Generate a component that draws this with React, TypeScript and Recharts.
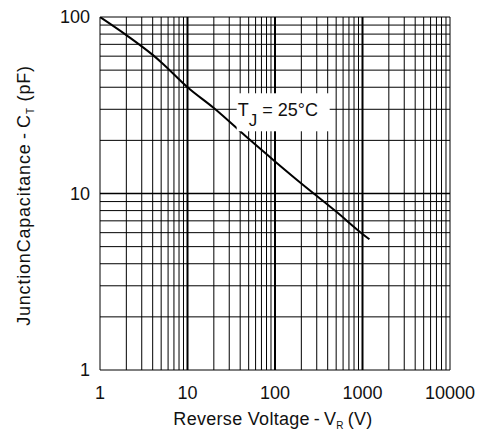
import React from "react";
import { LineChart, Line, XAxis, YAxis, ReferenceLine, ReferenceDot, Label } from "recharts";

const voltage = [1, 2, 4, 5, 10, 20, 50, 100, 200, 500, 1000, 1200];
const capacitance = [100, 79, 61, 55.5, 40, 30.5, 20.4, 15.2, 11.4, 7.9, 5.9, 5.5];

const xTicks = [1, 10, 100, 1000, 10000];
const yTicks = [1, 10, 100];

const xGrid = [
  1, 2, 3, 4, 5, 6, 7, 8, 9,
  10, 20, 30, 40, 50, 60, 70, 80, 90,
  100, 200, 300, 400, 500, 600, 700, 800, 900,
  1000, 2000, 3000, 4000, 5000, 6000, 7000, 8000, 9000, 10000,
];
const xMajor = [10, 100, 1000];
const yGrid = [1, 2, 3, 4, 5, 6, 7, 8, 9, 10, 20, 30, 40, 50, 60, 70, 80, 90, 100];
const yMajor = [10];

const data = voltage.map((v, i) => ({ v, c: capacitance[i] }));

const FONT = "'Liberation Sans', Arial, sans-serif";

const XLabel = (props: any) => {
  const vb = props.viewBox || {};
  const cx = vb.x + vb.width / 2 - 2;
  const y = vb.y + 55;
  return (
    <text x={cx} y={y} textAnchor="middle" fontSize={18} letterSpacing={0.3} fontFamily={FONT} fill="#111">
      {"Reverse Voltage\u2009-\u2009V"}
      <tspan fontSize={10} dy={4}>R</tspan>
      <tspan dy={-4}>{"\u2009(V)"}</tspan>
    </text>
  );
};

const YLabel = (props: any) => {
  const vb = props.viewBox || {};
  const x = 29.5;
  const cy = vb.y + vb.height / 2 + 2;
  return (
    <text
      x={x}
      y={cy}
      transform={`rotate(-90 ${x} ${cy})`}
      textAnchor="middle"
      fontSize={18}
      letterSpacing={0.8}
      fontFamily={FONT}
      fill="#111"
    >
      {"JunctionCapacitance\u2009-\u2009C"}
      <tspan fontSize={10} dy={4}>T</tspan>
      <tspan dy={-4}> (pF)</tspan>
    </text>
  );
};

const TjLabel = (props: any) => {
  const { cx, cy } = props;
  return (
    <g>
      <rect x={cx - 3.5} y={cy - 16} width={93} height={38} fill="#fff" />
      <text x={cx - 2.5} y={cy + 7} fontSize={18} fontFamily={FONT} fill="#111">
        T
        <tspan dy={10} fontSize={17}>J</tspan>
        <tspan dy={-10}> = 25°C</tspan>
      </text>
    </g>
  );
};

export default function App() {
  return (
    <div style={{ position: "absolute", left: 0, top: 0, width: 486, height: 432, background: "#fff" }}>
      <LineChart width={486} height={432} data={data} margin={{ top: 17, right: 36, left: 0, bottom: 0 }}>
        <XAxis
          dataKey="v"
          type="number"
          scale="log"
          domain={[1, 10000]}
          ticks={xTicks}
          allowDataOverflow
          axisLine={false}
          tickLine={false}
          tickSize={14}
          height={62}
          tick={{ fontSize: 18, fill: "#111", fontFamily: FONT }}
        >
          <Label content={<XLabel />} />
        </XAxis>
        <YAxis
          dataKey="c"
          type="number"
          scale="log"
          domain={[1, 100]}
          ticks={yTicks}
          allowDataOverflow
          axisLine={false}
          tickLine={false}
          tickSize={8}
          width={100}
          tick={{ fontSize: 18, fill: "#111", fontFamily: FONT }}
        >
          <Label content={<YLabel />} />
        </YAxis>
        {yGrid.map((g) => (
          <ReferenceLine
            key={"y" + g}
            y={g}
            stroke="#000"
            strokeWidth={yMajor.includes(g) ? 1.6 : 1}
            ifOverflow="extendDomain"
          />
        ))}
        {xGrid.map((g) => (
          <ReferenceLine
            key={"x" + g}
            x={g}
            stroke="#000"
            strokeWidth={xMajor.includes(g) ? 2 : 1}
            ifOverflow="extendDomain"
          />
        ))}
        <ReferenceDot x={40} y={30} r={0} shape={<TjLabel />} ifOverflow="visible" />
        <Line
          dataKey="c"
          type="monotone"
          stroke="#000"
          strokeWidth={2}
          dot={false}
          isAnimationActive={false}
        />
      </LineChart>
    </div>
  );
}
